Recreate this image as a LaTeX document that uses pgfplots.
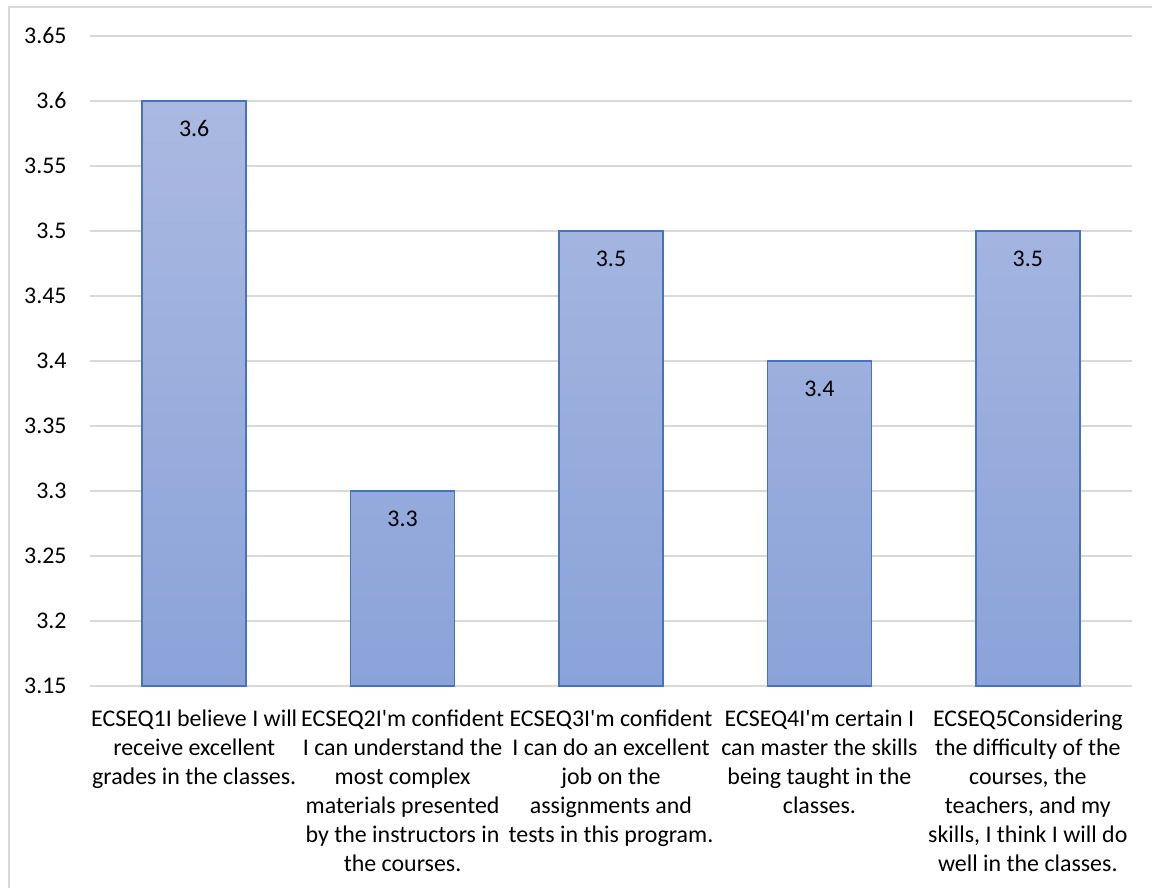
\documentclass[border=0pt]{standalone}
\usepackage{fontspec}
\setmainfont{Carlito}
\usepackage{pgfplots}
\pgfplotsset{compat=1.18}
\definecolor{gridc}{HTML}{D9D9D9}
\definecolor{barline}{HTML}{4472C4}
\definecolor{bartop}{HTML}{AAB9E1}
\definecolor{barbot}{HTML}{8BA3D9}
\begin{document}
\begin{tikzpicture}[x=1bp,y=1bp]
\useasboundingbox (0,0) rectangle (576,444);
\draw[gridc, line width=1bp] (4.25,0) -- (4.25,440.5) -- (576,440.5);
\begin{axis}[
  at={(45bp,101bp)}, anchor=south west,
  scale only axis, width=521bp, height=325bp,
  xmin=-0.5, xmax=4.5, ymin=3.15, ymax=3.65,
  ytick={3.15,3.2,3.25,3.3,3.35,3.4,3.45,3.5,3.55,3.6,3.65},
  yticklabels={3.15,3.2,3.25,3.3,3.35,3.4,3.45,3.5,3.55,3.6,3.65},
  xtick={0,1,2,3,4},
  xticklabels={
    {ECSEQ1I believe I will\\receive excellent\\grades in the classes.},
    {ECSEQ2I\textquotesingle m confident\\I can understand the\\most complex\\materials presented\\by the instructors in\\the courses.},
    {ECSEQ3I\textquotesingle m confident\\I can do an excellent\\job on the\\assignments and\\tests in this program.},
    {ECSEQ4I\textquotesingle m certain I\\can master the skills\\being taught in the\\classes.},
    {ECSEQ5Considering\\the difficulty of the\\courses, the\\teachers, and my\\skills, I think I will do\\well in the classes.}
  },
  major tick length=0pt,
  axis line style={draw=none},
  ymajorgrids, major grid style={gridc, line width=0.9bp},
  yticklabel style={font=\fontsize{12}{14}\selectfont, inner sep=0pt, anchor=east, xshift=-11.5bp},
  xticklabel style={font=\fontsize{12}{14.5}\selectfont, inner sep=0pt, anchor=north, align=center, yshift=-12bp},
  ybar, bar width=52bp,
  point meta=explicit symbolic,
  nodes near coords,
  every node near coord/.append style={font=\fontsize{12}{14}\selectfont, anchor=center, yshift=-14bp, black},
  clip=false,
]
\addplot[draw=barline, line width=0.8bp, top color=bartop, bottom color=barbot]
  coordinates {(0,3.6) [3.6] (1,3.3) [3.3] (2,3.5) [3.5] (3,3.4) [3.4] (4,3.5) [3.5]};
\end{axis}
\end{tikzpicture}
\end{document}
